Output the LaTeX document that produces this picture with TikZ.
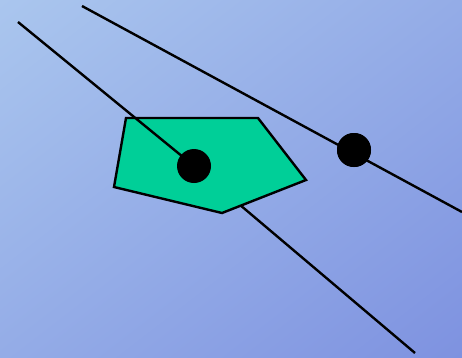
\documentclass[tikz,border=0pt]{standalone}
\usetikzlibrary{shadings}
\begin{document}
\begin{tikzpicture}[x=1pt,y=-1pt,
  ln/.style={line width=2.4pt,black},
  dotnode/.style={circle,fill=black,inner sep=0pt,minimum size=34pt},
  poly/.style={fill=green1,draw=black,line width=2.4pt,line join=miter}]
\definecolor{cTL}{RGB}{170,198,238}
\definecolor{cBR}{RGB}{126,146,224}
\definecolor{cMid}{RGB}{148,172,231}
\definecolor{green1}{RGB}{0,207,152}
\begin{scope}[y=1pt]
\shade[upper left=cTL,lower right=cBR,upper right=cMid,lower left=cMid] (0,-357) rectangle (462,0);
\end{scope}
\useasboundingbox (0,0) rectangle (462,357);
\coordinate (a1) at (18,22);
\coordinate (a2) at (415,353);
\coordinate (b1) at (82,6);
\coordinate (b2) at (462,212);
\node[dotnode] (d1) at (194,166) {};
\node[dotnode] (d2) at (354,150) {};
\draw[ln] (d1.center) -- (a2);
\draw[poly] (126,118) -- (258,118) -- (306,180) -- (222,213) -- (114,187) -- cycle;
\draw[ln] (a1) -- (d1.center);
\draw[ln] (b1) -- (b2);
\node[dotnode] at (d1) {};
\node[dotnode] at (d2) {};
\end{tikzpicture}
\end{document}
